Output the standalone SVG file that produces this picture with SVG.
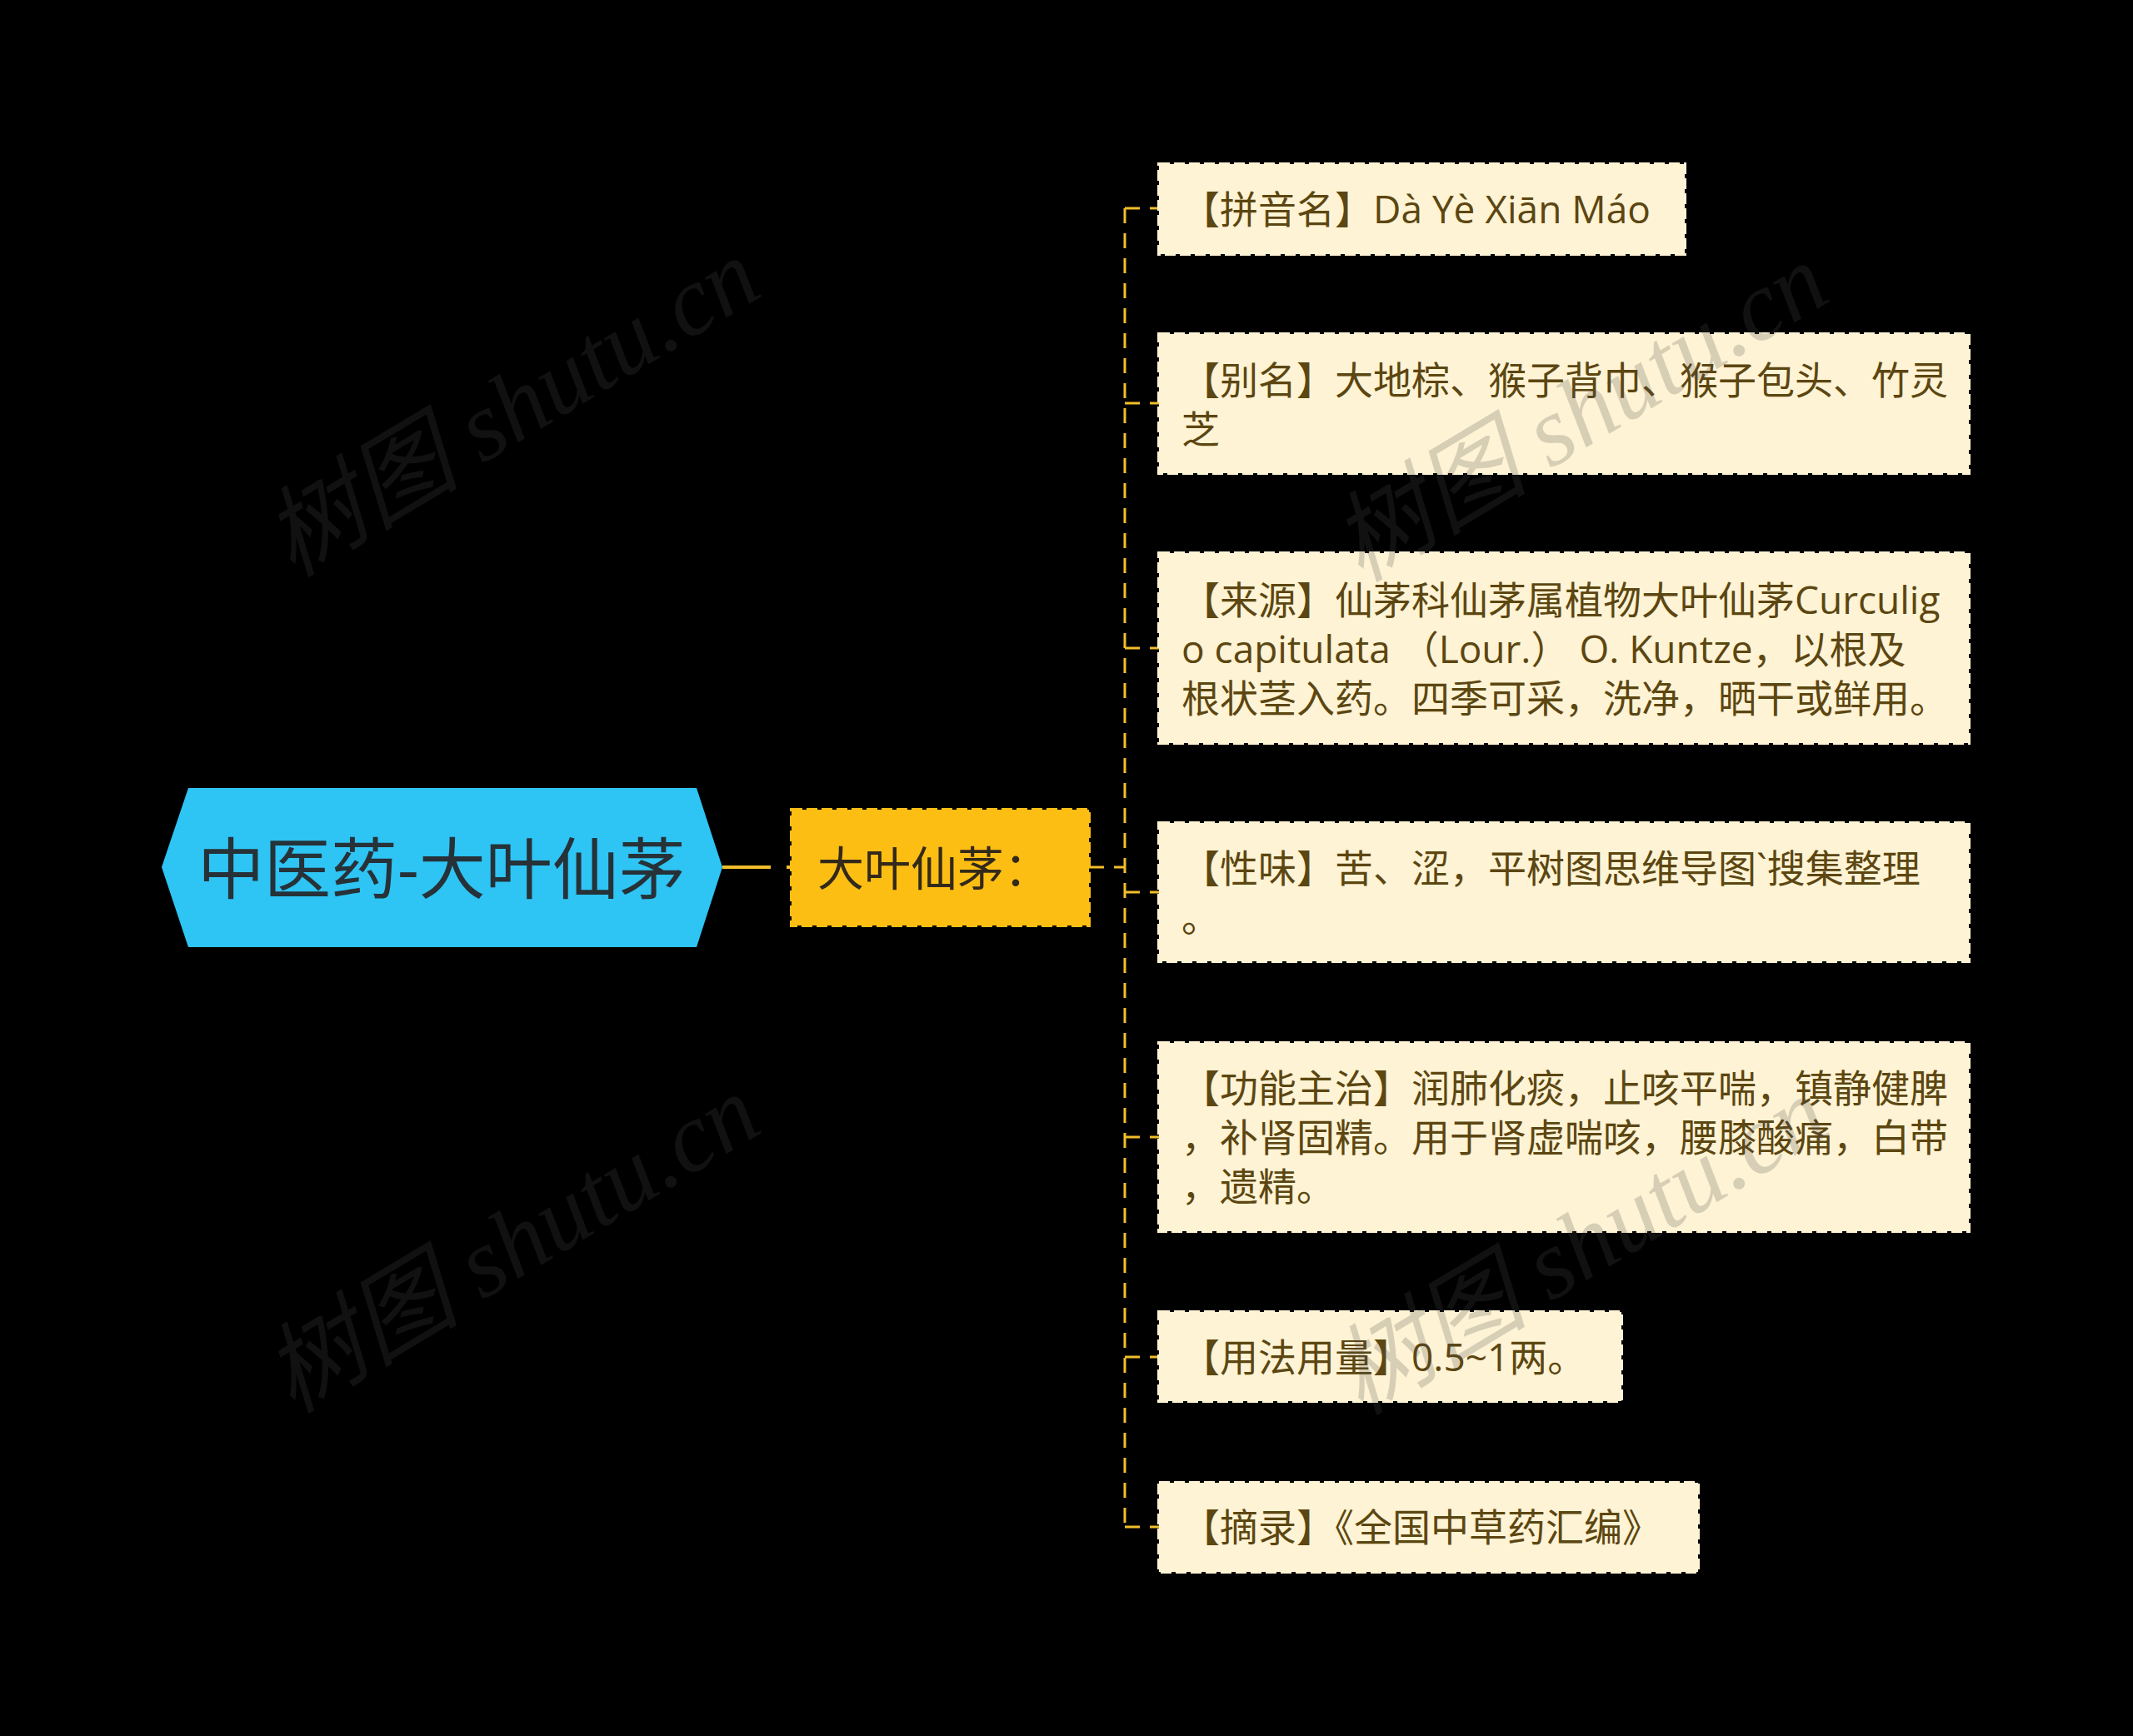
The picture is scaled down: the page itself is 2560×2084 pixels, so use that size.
<svg xmlns="http://www.w3.org/2000/svg" width="2560" height="2084" viewBox="0 0 2560 2084">
<style>
.conn{fill:none;stroke:#F2BE2A;stroke-width:3;stroke-dasharray:18 12}
.main{fill:none;stroke:#F2BE2A;stroke-width:4;stroke-dasharray:58 19}
.box{fill:#FEF3D4;stroke:#FEF3D4;stroke-width:4;stroke-dasharray:13 5}
.t{font-family:"Open Sans","Noto Sans CJK SC",sans-serif;font-size:46px;fill:#5C4611}
.wm{font-family:"Liberation Serif","Noto Sans CJK SC",serif;font-style:italic;font-size:118px;fill:#4C4C4C;fill-opacity:0.22}
</style>
<rect x="0" y="0" width="2560" height="2084" fill="#000000"/>
<g id="connectors">
<line class="main" x1="867" y1="1041" x2="950" y2="1041"/>
<line class="conn" x1="1307" y1="1041" x2="1350" y2="1041"/>
<line class="conn" x1="1350" y1="250" x2="1350" y2="1834"/>
<line class="conn" x1="1350" y1="250" x2="1391" y2="250"/>
<line class="conn" x1="1350" y1="484" x2="1391" y2="484"/>
<line class="conn" x1="1350" y1="778" x2="1391" y2="778"/>
<line class="conn" x1="1350" y1="1071" x2="1391" y2="1071"/>
<line class="conn" x1="1350" y1="1365" x2="1391" y2="1365"/>
<line class="conn" x1="1350" y1="1629" x2="1391" y2="1629"/>
<line class="conn" x1="1350" y1="1833" x2="1391" y2="1833"/>
</g>
<g id="root">
<polygon points="194,1041 226,946 836,946 867,1041 836,1137 226,1137" fill="#2EC4F4"/>
<text x="530" y="1072" text-anchor="middle" font-family="'Open Sans','Noto Sans CJK SC',sans-serif" font-size="80" fill="#263238">中医药-大叶仙茅</text>
</g>
<g id="topic">
<rect x="950" y="972" width="357" height="139" fill="#FDBE14" stroke="#FDBE14" stroke-width="4" stroke-dasharray="13 5"/>
<text x="981" y="1063" font-family="'Noto Sans CJK SC','Noto Sans',sans-serif" font-size="56" fill="#33291A">大叶仙茅：</text>
</g>
<g id="n1">
<rect class="box" x="1391" y="197" width="631" height="108"/>
<text class="t" x="1418" y="268">【拼音名】Dà Yè Xiān Máo</text>
</g>
<g id="n2">
<rect class="box" x="1391" y="401" width="972" height="167"/>
<text class="t" x="1418" y="473">【别名】大地棕、猴子背巾、猴子包头、竹灵</text>
<text class="t" x="1418" y="532">芝</text>
</g>
<g id="n3">
<rect class="box" x="1391" y="664" width="972" height="228"/>
<text class="t" x="1418" y="737">【来源】仙茅科仙茅属植物大叶仙茅Curculig</text>
<text class="t" x="1418" y="796">o capitulata （Lour.） O. Kuntze，以根及</text>
<text class="t" x="1418" y="855">根状茎入药。四季可采，洗净，晒干或鲜用。</text>
</g>
<g id="n4">
<rect class="box" x="1391" y="988" width="972" height="166"/>
<text class="t" x="1418" y="1059">【性味】苦、涩，平树图思维导图`搜集整理</text>
<text class="t" x="1418" y="1118">。</text>
</g>
<g id="n5">
<rect class="box" x="1391" y="1252" width="972" height="226"/>
<text class="t" x="1418" y="1323">【功能主治】润肺化痰，止咳平喘，镇静健脾</text>
<text class="t" x="1418" y="1382">，补肾固精。用于肾虚喘咳，腰膝酸痛，白带</text>
<text class="t" x="1418" y="1441">，遗精。</text>
</g>
<g id="n6">
<rect class="box" x="1391" y="1575" width="555" height="107"/>
<text class="t" x="1418" y="1646">【用法用量】0.5~1两。</text>
</g>
<g id="n7">
<rect class="box" x="1391" y="1780" width="647" height="107"/>
<text class="t" x="1418" y="1850">【摘录】《全国中草药汇编》</text>
</g>
<g id="watermarks">
<text class="wm" transform="translate(351,694) rotate(-31)">树图 shutu.cn</text>
<text class="wm" transform="translate(1633,700) rotate(-31)">树图 shutu.cn</text>
<text class="wm" transform="translate(351,1698) rotate(-31)">树图 shutu.cn</text>
<text class="wm" transform="translate(1633,1700) rotate(-31)">树图 shutu.cn</text>
</g>
</svg>
